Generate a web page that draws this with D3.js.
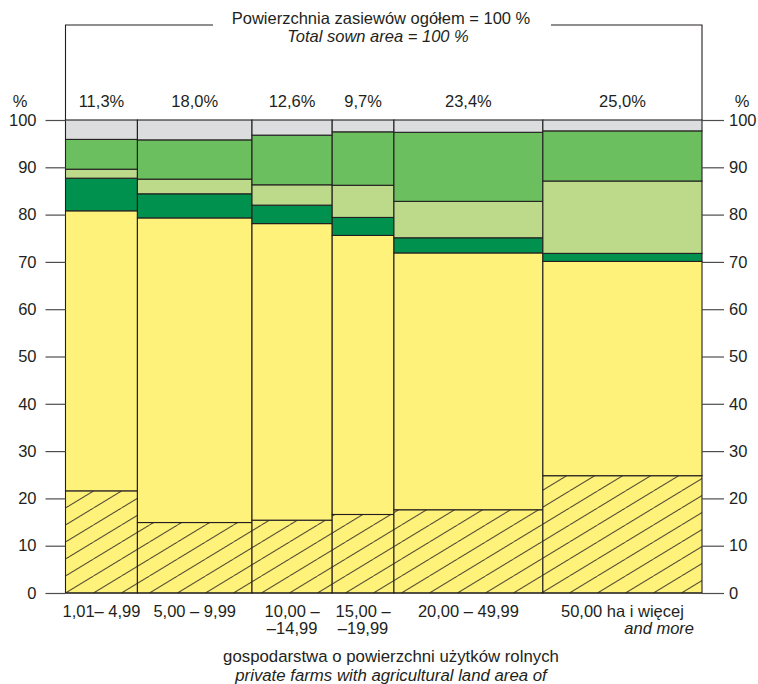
<!DOCTYPE html>
<html>
<head>
<meta charset="utf-8">
<script src="https://cdn.jsdelivr.net/npm/d3@7/dist/d3.min.js"></script>
<style>
  html, body { margin: 0; padding: 0; background: #fff; }
  text { font-family: "Liberation Sans", Arial, Helvetica, sans-serif; fill: #231f20; }
</style>
</head>
<body>
<svg id="chart" width="758" height="684"></svg>
<script>
// ---- data ----
const categories = ["1,01– 4,99", "5,00 – 9,99", "10,00 –\n–14,99", "15,00 –\n–19,99", "20,00 – 49,99", "50,00 ha i więcej"];
const categoryNotes = ["", "", "", "", "", "and more"];
const shares = [11.3, 18.0, 12.6, 9.7, 23.4, 25.0];
const shareLabels = ["11,3%", "18,0%", "12,6%", "9,7%", "23,4%", "25,0%"];
// segment values (%) per column, bottom to top
const hatchedYellow = [21.6, 14.9, 15.4, 16.6, 17.6, 24.8];
const plainYellow   = [59.2, 64.4, 62.7, 59.0, 54.3, 45.3];
const darkGreen     = [6.9, 5.1, 3.9, 3.8, 3.2, 1.7];
const lightGreen    = [1.9, 3.1, 4.3, 6.8, 7.7, 15.3];
const midGreen      = [6.3, 8.3, 10.5, 11.3, 14.6, 10.6];
const grey          = [4.1, 4.2, 3.2, 2.5, 2.6, 2.3];
const yTicks = [0, 10, 20, 30, 40, 50, 60, 70, 80, 90, 100];

(function () {
const FS = 16.5;
const series = [
  { values: hatchedYellow, fill: "url(#hatch)" },
  { values: plainYellow, fill: "#fff27a" },
  { values: darkGreen, fill: "#00914e" },
  { values: lightGreen, fill: "#bcda8a" },
  { values: midGreen, fill: "#6cbf5e" },
  { values: grey, fill: "#dcdddf" }
];

const svg = d3.select("#chart");
const pLeft = 65.5, pRight = 702, pTop = 120, pBottom = 593;
const x = d3.scaleLinear().domain([0, 100]).range([pLeft, pRight]);
const y = d3.scaleLinear().domain([0, 100]).range([pBottom, pTop]);

// hatch pattern
const defs = svg.append("defs");
const pw = 28, ph = 17;
const pat = defs.append("pattern").attr("id", "hatch")
  .attr("patternUnits", "userSpaceOnUse").attr("width", pw).attr("height", ph)
  .attr("x", pLeft).attr("y", pBottom);
pat.append("rect").attr("width", pw).attr("height", ph).attr("fill", "#fff27a");
pat.append("path")
  .attr("d", `M0,${ph} L${pw},0 M${-pw},${ph} L0,0 M${pw},${ph} L${2*pw},0`)
  .attr("stroke", "#231f20").attr("stroke-width", 1).attr("fill", "none");

// cumulative x positions
const xStart = [];
let acc = 0;
shares.forEach(s => { xStart.push(acc); acc += s; });

// segments
const cols = svg.append("g");
shares.forEach((s, i) => {
  let base = 0;
  series.forEach(ser => {
    const v = ser.values[i];
    cols.append("rect")
      .attr("x", x(xStart[i]))
      .attr("y", y(base + v))
      .attr("width", x(xStart[i] + s) - x(xStart[i]))
      .attr("height", y(base) - y(base + v))
      .attr("fill", ser.fill)
      .attr("stroke", "#231f20")
      .attr("stroke-width", 1.1);
    base += v;
  });
});

// axes
const leftAxis = d3.axisLeft(y).tickValues(yTicks).tickSize(20).tickPadding(9).tickFormat(d3.format("d"));
const rightAxis = d3.axisRight(y).tickValues(yTicks).tickSize(22).tickPadding(5).tickFormat(d3.format("d"));
const gl = svg.append("g").attr("transform", `translate(${pLeft},0)`).call(leftAxis);
const gr = svg.append("g").attr("transform", `translate(${pRight},0)`).call(rightAxis);
[gl, gr].forEach(g => {
  g.select(".domain").remove();
  g.selectAll(".tick line").attr("stroke", "#4d4d4f").attr("stroke-width", 1.2);
  g.selectAll(".tick text").attr("font-size", 16.5).attr("fill", "#231f20")
    .attr("font-family", "Liberation Sans, Arial, sans-serif");
});
// baseline
svg.append("line").attr("x1", pLeft).attr("x2", pRight).attr("y1", pBottom).attr("y2", pBottom)
  .attr("stroke", "#231f20").attr("stroke-width", 1.2);

// % units
svg.append("text").attr("x", 20).attr("y", 107).attr("text-anchor", "middle").attr("font-size", FS).text("%");
svg.append("text").attr("x", 742).attr("y", 107).attr("text-anchor", "middle").attr("font-size", FS).text("%");

// share labels
shares.forEach((s, i) => {
  svg.append("text").attr("x", x(xStart[i] + s / 2)).attr("y", 107)
    .attr("text-anchor", "middle").attr("font-size", FS).text(shareLabels[i]);
});

// top bracket
const gapL = 213, gapR = 551, bracketY = 25;
svg.append("path")
  .attr("d", `M${pLeft},${pTop} L${pLeft},${bracketY} L${gapL},${bracketY} M${gapR},${bracketY} L${pRight},${bracketY} L${pRight},${pTop}`)
  .attr("fill", "none").attr("stroke", "#231f20").attr("stroke-width", 1.1);
svg.append("text").attr("x", 381).attr("y", 24).attr("text-anchor", "middle").attr("font-size", 16.5)
  .text("Powierzchnia zasiewów ogółem = 100 %");
svg.append("text").attr("x", 378).attr("y", 42).attr("text-anchor", "middle").attr("font-size", 16.5)
  .attr("font-style", "italic").text("Total sown area = 100 %");

// category labels
categories.forEach((c, i) => {
  const cx = x(xStart[i] + shares[i] / 2);
  const lines = c.split("\n");
  lines.forEach((ln, j) => {
    svg.append("text").attr("x", cx).attr("y", 617 + j * 17)
      .attr("text-anchor", "middle").attr("font-size", FS).text(ln);
  });
  if (categoryNotes[i]) {
    svg.append("text").attr("x", 694).attr("y", 634)
      .attr("text-anchor", "end").attr("font-size", FS).attr("font-style", "italic").text(categoryNotes[i]);
  }
});

// bottom title
svg.append("text").attr("x", 391).attr("y", 662).attr("text-anchor", "middle").attr("font-size", 16.8)
  .text("gospodarstwa o powierzchni użytków rolnych");
svg.append("text").attr("x", 391).attr("y", 681).attr("text-anchor", "middle").attr("font-size", 16.8)
  .attr("font-style", "italic").text("private farms with agricultural land area of");
})();
</script>
</body>
</html>
